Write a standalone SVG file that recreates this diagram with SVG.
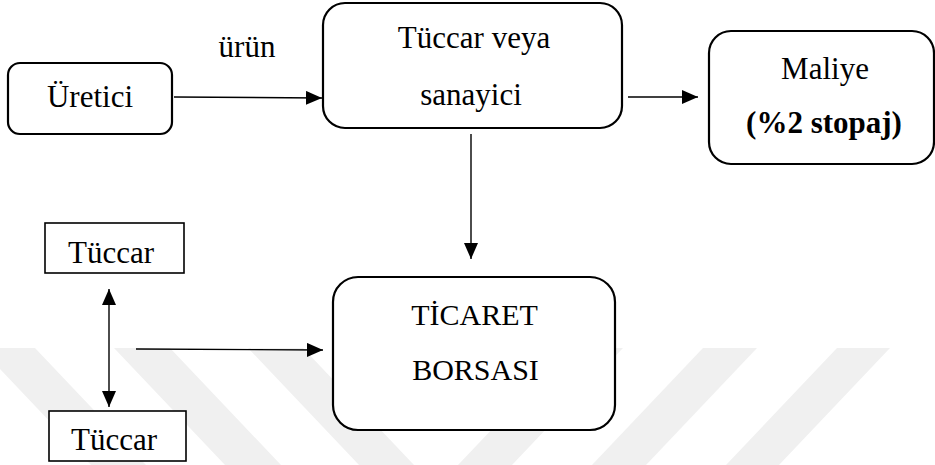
<svg xmlns="http://www.w3.org/2000/svg" width="935" height="465" viewBox="0 0 935 465">
  <defs>
    <marker id="arrowhead" viewBox="0 0 16 14" refX="16" refY="7" markerWidth="16" markerHeight="14" markerUnits="userSpaceOnUse" orient="auto-start-reverse">
      <path d="M0,0 L16,7 L0,14 z" fill="#000"/>
    </marker>
    <style>
      .label { font-size: 31px; fill: #000; text-anchor: middle; }
      .small { font-size: 30px; }
      .bold { font-weight: bold; }
      .round { fill: #fff; stroke: #000; stroke-width: 2.2; }
      .plain { fill: #fff; stroke: #000; stroke-width: 1.6; }
      .conn { fill: none; stroke: #000; stroke-width: 1.4; marker-end: url(#arrowhead); }
      .stripe { fill: #f0f0f0; }
    </style>
  </defs>

  <rect width="935" height="465" fill="#fff"/>

  <!-- faint diagonal background stripes -->
  <g id="background-stripes">
    <polygon class="stripe" points="-20,348 35,348 146,465 91,465"/>
    <polygon class="stripe" points="114,348 170,348 281,465 225,465"/>
    <polygon class="stripe" points="248,348 303,348 414,465 359,465"/>
    <polygon class="stripe" points="569,348 623,348 512,465 458,465"/>
    <polygon class="stripe" points="703,348 757,348 646,465 592,465"/>
    <polygon class="stripe" points="837,348 890,348 779,465 726,465"/>
  </g>

  <g font-family="'Liberation Serif', serif">
    <!-- connectors -->
    <g id="connectors">
      <line class="conn" x1="174" y1="97" x2="322" y2="98"/>
      <line class="conn" x1="628" y1="97" x2="698" y2="97"/>
      <line class="conn" x1="471" y1="134" x2="471" y2="259"/>
      <line class="conn" x1="136" y1="349" x2="323" y2="350"/>
      <line class="conn" x1="109" y1="289" x2="109" y2="407" style="marker-start: url(#arrowhead)"/>
      <text class="label" x="247" y="57">ürün</text>
    </g>

    <g id="uretici">
      <rect class="round" x="8" y="63" width="164" height="71" rx="12"/>
      <text class="label" x="90" y="107">Üretici</text>
    </g>

    <g id="tuccar-veya-sanayici">
      <rect class="round" x="323" y="3" width="299" height="125" rx="22"/>
      <text class="label" x="474" y="48">Tüccar veya</text>
      <text class="label" x="471" y="105">sanayici</text>
    </g>

    <g id="maliye">
      <rect class="round" x="709" y="31" width="225" height="133" rx="22"/>
      <text class="label" x="825" y="79">Maliye</text>
      <text class="label bold" x="824" y="133">(%2 stopaj)</text>
    </g>

    <g id="ticaret-borsasi">
      <rect class="round" x="333" y="277" width="282" height="153" rx="25"/>
      <text class="label small" x="474.5" y="325">TİCARET</text>
      <text class="label small" x="475.5" y="380">BORSASI</text>
    </g>

    <g id="tuccar-1">
      <rect class="plain" x="45" y="223" width="139" height="50"/>
      <text class="label" x="111" y="263">Tüccar</text>
    </g>

    <g id="tuccar-2">
      <rect class="plain" x="49" y="411" width="137" height="50"/>
      <text class="label" x="114" y="450">Tüccar</text>
    </g>
  </g>
</svg>
